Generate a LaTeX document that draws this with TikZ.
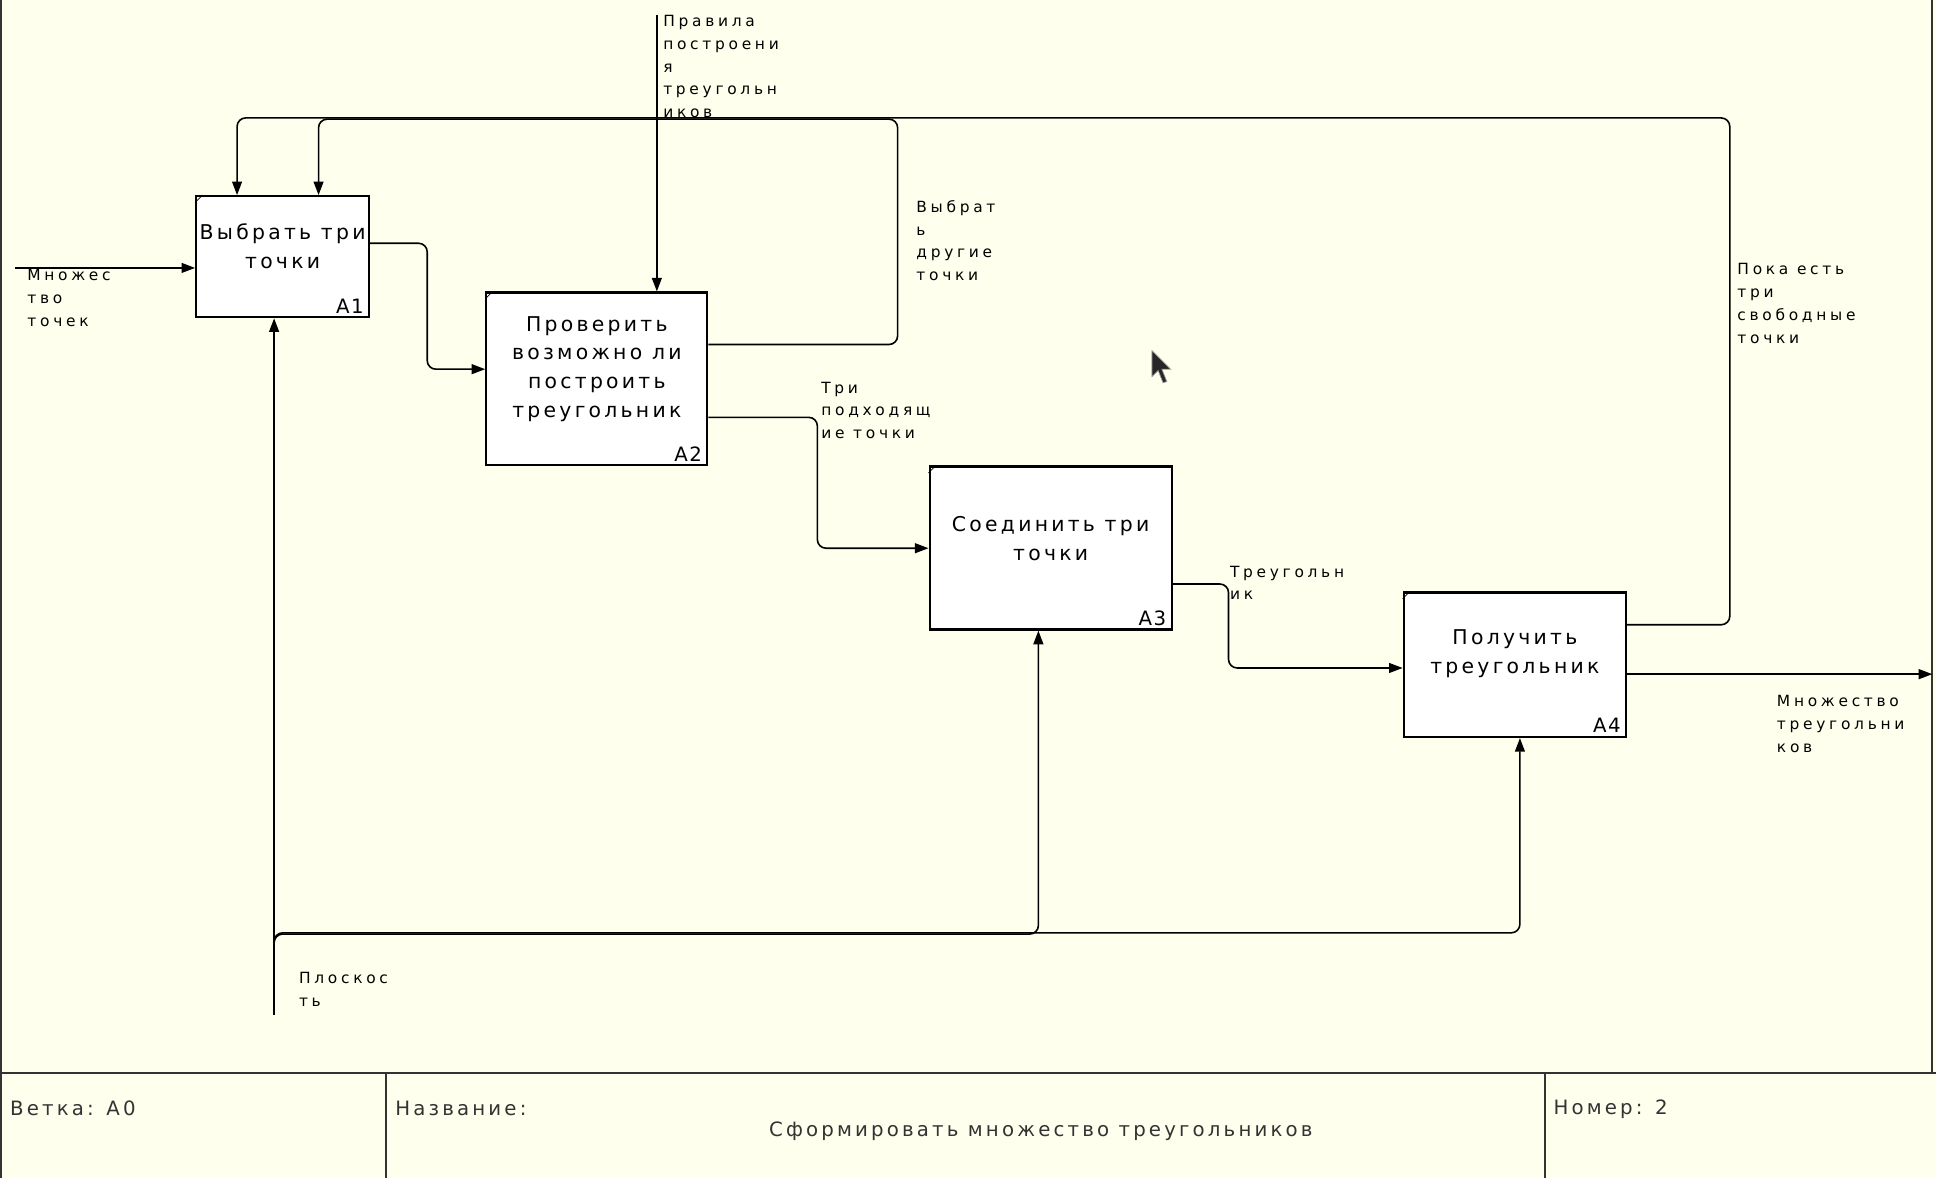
\documentclass[tikz,border=0pt]{standalone}
\usepackage{fontspec}
\setmainfont{DejaVu Sans}
\newfontfamily\boxfont[LetterSpace=16]{DejaVu Sans}
\newfontfamily\lblfont[LetterSpace=24]{DejaVu Sans}
\newfontfamily\numfont[LetterSpace=8]{DejaVu Sans}
\usetikzlibrary{arrows.meta}
\definecolor{paper}{RGB}{255,255,238}
\definecolor{frame}{RGB}{51,51,51}
\tikzset{
  proc/.style={draw, line width=1.8pt, fill=white, inner sep=0pt, anchor=north west},
  ptext/.style={font=\boxfont\fontsize{16.5}{23.3}\selectfont, align=center, inner sep=0pt},
  num/.style={font=\numfont\fontsize{16}{16}\selectfont, inner xsep=5pt, inner ysep=4pt, anchor=south east},
  lbl/.style={font=\lblfont\fontsize{12.5}{18.5}\selectfont, align=left, anchor=north west, inner sep=0pt},
  ttl/.style={font=\boxfont\fontsize{16}{18}\selectfont, text=frame, inner sep=0pt},
  flow/.style={line width=1.3pt, rounded corners=7pt, -{Triangle[length=11pt,width=8pt]}},
  tick/.style={line width=0.6pt},
}
\begin{document}
\begin{tikzpicture}[x=1pt,y=-1pt]
  % sheet
  \fill[paper] (0,0) rectangle (1568,954);
  \useasboundingbox (0,0) rectangle (1568,954);
  \draw[frame, line width=1.6pt] (1,0) -- (1,954);
  \draw[frame, line width=1.6pt] (1565,0) -- (1565,869);
  \draw[frame, line width=1.6pt] (0,869) -- (1568,869);
  \draw[frame, line width=1.6pt] (313,869) -- (313,954);
  \draw[frame, line width=1.6pt] (1251,869) -- (1251,954);

  % title block
  \node[ttl, anchor=west] (branch) at (8,898) {Ветка: A0};
  \node[ttl, anchor=west] (nameh) at (320,898) {Название:};
  \node[ttl] (title) at (843,916) {Сформировать множество треугольников};
  \node[ttl, anchor=west] (page) at (1258,898) {Номер: 2};

  % activity boxes
  \node[proc, minimum width=140pt, minimum height=98pt] (A1) at (158,158) {};
  \node[proc, minimum width=179pt, minimum height=140pt] (A2) at (393,236) {};
  \node[proc, minimum width=196pt, minimum height=132pt] (A3) at (752,377) {};
  \node[proc, minimum width=180pt, minimum height=117pt] (A4) at (1136,479) {};

  \foreach \b in {A1,A2,A3,A4} {
    \draw[tick] (\b.north west) ++(0,6) -- ++(6,-6);
    \node[num] at (\b.south east) {\b};
  }

  \node[ptext] (A1t) at ([yshift=8.5pt]A1.center) {Выбрать три\\точки};
  \node[ptext] (A2t) at ([yshift=8pt]A2.center) {Проверить\\возможно ли\\построить\\треугольник};
  \node[ptext] (A3t) at ([yshift=8pt]A3.center) {Соединить три\\точки};
  \node[ptext] (A4t) at ([yshift=9pt]A4.center) {Получить\\треугольник};

  % boundary ends
  \coordinate (inL) at (12,217);
  \coordinate (outR) at (1565,546);
  \coordinate (rulesTop) at (532,12);
  \coordinate (plane) at (222,822);

  % input
  \draw[flow] (inL) -- (A1.west |- 0,217);
  % control
  \draw[flow] (rulesTop) -- (A2.north -| 532,0);
  % A1 -> A2
  \draw[flow] (A1.east |- 0,197) -| (346,299) -- (A2.west |- 0,299);
  % A2 -> A3
  \draw[flow] (A2.east |- 0,338) -| (662,444) -- (A3.west |- 0,444);
  % A3 -> A4
  \draw[flow] (A3.east |- 0,473) -| (995,541) -- (A4.west |- 0,541);
  % output
  \draw[flow] (A4.east |- 0,546) -- (outR);
  % feedback A2 -> A1
  \draw[flow] (A2.east |- 0,279) -| (727,96.5) -| (A1.north -| 258,0);
  % feedback A4 -> A1
  \draw[flow] (A4.east |- 0,506) -| (1401,95.5) -| (A1.north -| 192,0);
  % mechanism
  \draw[flow] (plane) -- (A1.south -| 222,0);
  \draw[flow] (plane) |- (841,756.5) -- (A3.south -| 841,0);
  \draw[flow] (plane) |- (1231,755.5) -- (A4.south -| 1231,0);

  % arrow labels
  \begin{scope}
    \clip (534,0) rectangle (720,94);
    \node[lbl] (rules) at (537,12) {Правила\\построени\\я\\треугольн\\иков};
  \end{scope}
  \node[lbl] (inlbl) at (22,218) {Множес\\тво\\точек};
  \node[lbl] (fb1) at (742,162) {Выбрат\\ь\\другие\\точки};
  \node[lbl] (fb2) at (1407,213) {Пока есть\\три\\свободные\\точки};
  \node[lbl] (l23) at (665,309) {Три\\подходящ\\ие точки};
  \node[lbl] (l34) at (996,458) {Треугольн\\ик};
  \node[lbl] (outlbl) at (1439,563) {Множество\\треугольни\\ков};
  \node[lbl] (mech) at (242,787) {Плоскос\\ть};

  % pointer
  \filldraw[fill=black!85, draw=black!40, line width=0.6pt]
    (933,284) -- (933,305) -- (938,300) -- (942,310) -- (945,309) -- (941,299) -- (948,299) -- cycle;
\end{tikzpicture}
\end{document}
